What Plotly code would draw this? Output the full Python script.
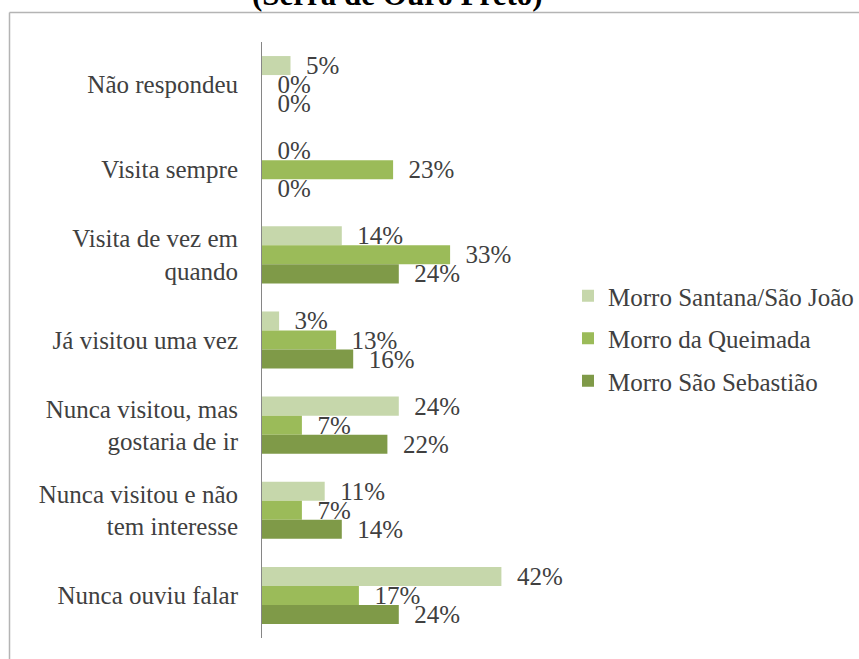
import plotly.graph_objects as go

categories = [
    "Não respondeu",
    "Visita sempre",
    "Visita de vez em<br>quando",
    "Já visitou uma vez",
    "Nunca visitou, mas<br>gostaria de ir",
    "Nunca visitou e não<br>tem interesse",
    "Nunca ouviu falar",
]
series_names = ["Morro Santana/São João", "Morro da Queimada", "Morro São Sebastião"]
santana = [5, 0, 14, 3, 24, 11, 42]
queimada = [0, 23, 33, 13, 7, 7, 17]
sebastiao = [0, 0, 24, 16, 22, 14, 24]
colors = ["#c6d7ab", "#9bbb59", "#7f9a48"]

FONT = "Liberation Serif"
TXT = "#404040"
FS = 25

fig = go.Figure()
for i, (name, vals) in enumerate(zip(series_names, [santana, queimada, sebastiao])):
    fig.add_trace(go.Bar(
        y=categories, x=vals, name=name, orientation="h",
        marker=dict(color=colors[i], line=dict(width=0)),
        text=["\u00a0\u00a0" + f"{v}%" for v in vals],
        textposition="outside", constraintext="none", cliponaxis=False,
        textfont=dict(family=FONT, size=FS, color=TXT),
        legendgroup=f"g{i}", hoverinfo="skip",
    ))

W, H = 859, 659
L, R, T, B = 262, 312, 42, 21
pw = W - L - R
ph = H - T - B

def px_x(p):
    return (p - L) / pw

def px_y(p):
    return 1 - (p - T) / ph

fig.update_layout(
    width=W, height=H,
    margin=dict(l=L, r=R, t=T, b=B, autoexpand=False),
    paper_bgcolor="white", plot_bgcolor="white",
    barmode="group", bargap=0.33, bargroupgap=0,
    font=dict(family=FONT, size=FS, color=TXT),
    showlegend=True,
    legend=dict(
        x=px_x(568), y=px_y(273), xanchor="left", yanchor="top",
        traceorder="grouped", tracegroupgap=7,
        font=dict(family=FONT, size=FS, color=TXT),
        bgcolor="rgba(0,0,0,0)", itemwidth=30,
    ),
    xaxis=dict(range=[0, 50], visible=False, fixedrange=True),
    yaxis=dict(
        autorange="reversed", showline=True, linecolor="#868686", linewidth=1,
        showgrid=False, ticks="outside", ticklen=18, tickcolor="rgba(0,0,0,0)",
        tickfont=dict(family=FONT, size=FS, color=TXT), zeroline=False,
    ),
    shapes=[
        dict(type="line", xref="paper", yref="paper",
             x0=px_x(9.5), x1=px_x(900), y0=px_y(12.5), y1=px_y(12.5),
             line=dict(color="#b4b4b4", width=1.5)),
        dict(type="line", xref="paper", yref="paper",
             x0=px_x(9.5), x1=px_x(9.5), y0=px_y(12.5), y1=px_y(700),
             line=dict(color="#b4b4b4", width=1.5)),
    ],
    annotations=[
        dict(text="<b>(Serra de Ouro Preto)</b>", xref="paper", yref="paper",
             x=px_x(397), y=px_y(14), xanchor="center", yanchor="bottom",
             showarrow=False, font=dict(family=FONT, size=31, color="black")),
    ],
)

fig.write_html(
    "out.html",
    config={"displayModeBar": False, "staticPlot": True},
    post_script="document.body.style.margin='0';document.body.style.padding='0';",
)
